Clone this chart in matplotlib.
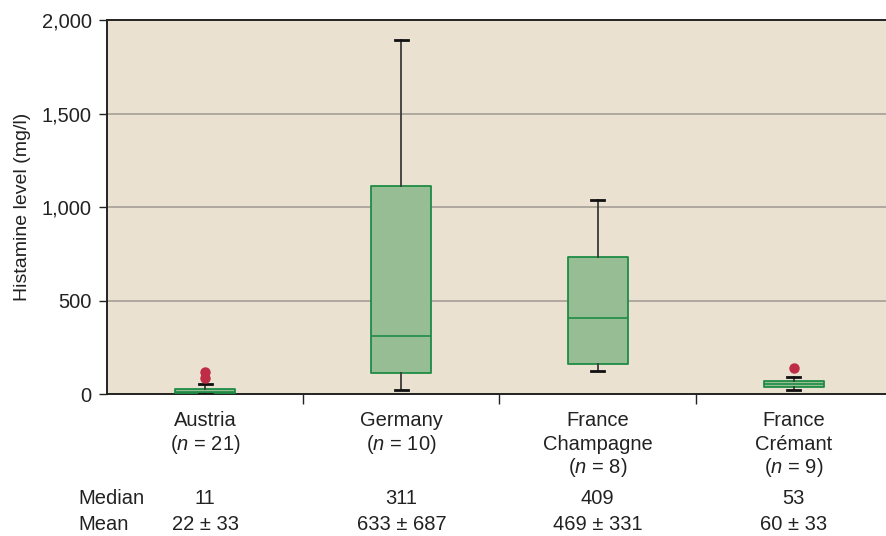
import matplotlib
matplotlib.use("Agg")
import matplotlib.pyplot as plt
from matplotlib.transforms import blended_transform_factory

# --- data -------------------------------------------------------------
countries = ["Austria", "Germany", "France\nChampagne", "France\nCrémant"]
sample_n = [21, 10, 8, 9]
medians = [11, 311, 409, 53]
q1 = [4, 111, 160, 36]
q3 = [25, 1113, 734, 68]
whisker_low = [0, 21, 123, 21]
whisker_high = [52, 1893, 1037, 93]
outliers = [[86, 118], [], [], [141]]
means = [22, 633, 469, 60]
sds = [33, 687, 331, 33]
y_ticks = [0, 500, 1000, 1500, 2000]

# --- fonts ------------------------------------------------------------
base = "Liberation Sans"
plt.rcParams["font.family"] = [base, "DejaVu Sans"]
plt.rcParams["mathtext.fontset"] = "custom"
plt.rcParams["mathtext.it"] = f"{base}:italic"
plt.rcParams["mathtext.rm"] = base

FS = 14.5
INK = "#222222"
BG = "#EAE1D1"
BOX_FILL = "#97BD95"
BOX_EDGE = "#1E8C45"
FLIER = "#BE2C45"
GRID = "#A9A49B"

fig = plt.figure(figsize=(8.87, 5.36), dpi=100)
ax = fig.add_axes([107 / 887, 1 - 394 / 536, 785 / 887, 374 / 536])
ax.set_facecolor(BG)

stats = []
for i in range(len(countries)):
    stats.append(dict(med=medians[i], q1=q1[i], q3=q3[i],
                      whislo=whisker_low[i], whishi=whisker_high[i],
                      fliers=outliers[i]))

positions = list(range(1, len(countries) + 1))
ax.bxp(stats, positions=positions, widths=0.306, capwidths=0.066,
       patch_artist=True, showfliers=True,
       boxprops=dict(facecolor=BOX_FILL, edgecolor=BOX_EDGE, linewidth=1.3,
                     joinstyle="round"),
       medianprops=dict(color=BOX_EDGE, linewidth=1.2),
       whiskerprops=dict(color="#3a3a3a", linewidth=1.3),
       capprops=dict(color="#111111", linewidth=2.0),
       flierprops=dict(marker="o", markerfacecolor=FLIER,
                       markeredgecolor=FLIER, markersize=6.5),
       zorder=3)

ax.set_xlim(0.5, 4.5)
ax.set_ylim(0, 2000)
ax.set_yticks(y_ticks)
ax.set_yticklabels([f"{v:,}" for v in y_ticks], fontsize=FS)
ax.tick_params(axis="y", direction="out", length=6, width=1, colors=INK,
               labelcolor=INK, pad=5)
for v in y_ticks[1:-1]:
    ax.axhline(v, color=GRID, linewidth=1.3, zorder=1)

# category boundaries carry the x ticks
ax.set_xticks([1.5, 2.5, 3.5, 4.5])
ax.set_xticklabels([])
ax.tick_params(axis="x", direction="out", length=7, width=1, colors=INK)

for side in ["top", "left", "bottom"]:
    ax.spines[side].set_color(INK)
    ax.spines[side].set_linewidth(1.4)
ax.spines["right"].set_visible(False)

ax.set_ylabel("Histamine level (mg/l)", fontsize=14, color=INK, labelpad=8)

# category labels and summary rows beneath the axis
tr = blended_transform_factory(ax.transData, fig.transFigure)
def fy(px):
    return 1 - px / 536

for x, name, n in zip(positions, countries, sample_n):
    lines = name.split("\n") + [f"($\\mathit{{n}}$ = {n})"]
    for k, line in enumerate(lines):
        ax.text(x, fy(421 + 23.3 * k), line, transform=tr, ha="center",
                va="center", fontsize=FS, color=INK)

fig.text(78 / 887, fy(499), "Median", ha="left", va="center", fontsize=FS,
         color=INK)
fig.text(78 / 887, fy(524), "Mean", ha="left", va="center", fontsize=FS,
         color=INK)
for x, med, m, s in zip(positions, medians, means, sds):
    ax.text(x, fy(499), f"{med}", transform=tr, ha="center", va="center",
            fontsize=FS, color=INK)
    ax.text(x, fy(524), f"{m} ± {s}", transform=tr, ha="center", va="center",
            fontsize=FS, color=INK)

fig.savefig("out.png", dpi=100, facecolor="white")
